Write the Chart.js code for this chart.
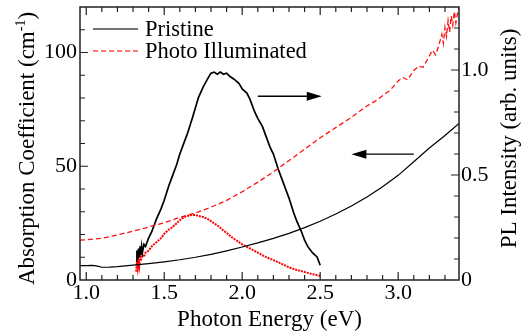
<!DOCTYPE html>
<html>
<head>
<meta charset="utf-8">
<script src="https://cdn.jsdelivr.net/npm/chart.js@4.4.1/dist/chart.umd.min.js"></script>
<style>
  html, body { margin: 0; padding: 0; background: #fff; }
</style>
</head>
<body>
<canvas id="myChart" width="523" height="331"></canvas>
<script>
// ---- data ----
// absorption (left axis, cm^-1)
const absPristineX = [0.96, 1.0, 1.04, 1.08, 1.1, 1.15, 1.2, 1.3, 1.4, 1.5, 1.6, 1.7, 1.8, 1.9, 2.0, 2.1, 2.2, 2.3, 2.4, 2.5, 2.6, 2.7, 2.8, 2.9, 3.0, 3.1, 3.2, 3.3, 3.39]
const absPristine  = [6.3, 6.3, 6.4, 6.0, 5.6, 5.7, 5.9, 6.5, 7.2, 8.0, 8.9, 10.0, 11.3, 12.8, 14.5, 16.3, 18.3, 20.5, 23.0, 25.8, 29.0, 32.5, 36.5, 41.0, 46.0, 52.0, 58.0, 63.5, 68.8]

const absPhotoX = [0.96, 1.0, 1.1, 1.2, 1.3, 1.4, 1.5, 1.6, 1.7, 1.8, 1.9, 2.0, 2.1, 2.2, 2.3, 2.4, 2.5, 2.6, 2.7, 2.8, 2.85, 2.9, 2.95, 3.0, 3.03, 3.06, 3.1, 3.13, 3.16, 3.2, 3.22, 3.24, 3.26, 3.28, 3.29, 3.3, 3.31, 3.32, 3.33, 3.34, 3.35, 3.36, 3.37, 3.38, 3.39]
const absPhoto  = [17.5, 17.7, 18.3, 19.8, 21.5, 23.3, 25.2, 27.5, 29.5, 32.0, 35.0, 38.8, 43.0, 47.5, 52.5, 57.5, 62.5, 67.0, 71.5, 76.5, 78.5, 81.0, 83.5, 87.5, 89.0, 88.0, 92.0, 94.0, 93.5, 98.5, 101, 99, 103, 108, 104, 111, 107, 114, 109, 116, 112, 118, 113, 117, 120]

// PL (right axis, arb. units)
const plPristineX = [1.32, 1.325, 1.33, 1.335, 1.34, 1.345, 1.35, 1.355, 1.36, 1.37, 1.38, 1.4, 1.42, 1.45, 1.48, 1.5, 1.53, 1.55, 1.58, 1.6, 1.63, 1.65, 1.68, 1.7, 1.72, 1.75, 1.78, 1.8, 1.82, 1.84, 1.86, 1.88, 1.9, 1.92, 1.95, 1.98, 2.0, 2.03, 2.05, 2.08, 2.1, 2.13, 2.15, 2.18, 2.2, 2.23, 2.25, 2.28, 2.3, 2.33, 2.35, 2.38, 2.4, 2.42, 2.45, 2.48, 2.5]
const plPristine  = [0.09, 0.14, 0.10, 0.15, 0.11, 0.16, 0.12, 0.16, 0.13, 0.17, 0.16, 0.20, 0.23, 0.29, 0.34, 0.38, 0.45, 0.49, 0.55, 0.60, 0.66, 0.70, 0.77, 0.82, 0.87, 0.92, 0.96, 0.985, 0.99, 0.98, 0.99, 0.98, 0.985, 0.97, 0.955, 0.935, 0.91, 0.89, 0.86, 0.80, 0.77, 0.73, 0.69, 0.63, 0.60, 0.53, 0.49, 0.43, 0.39, 0.32, 0.28, 0.23, 0.19, 0.16, 0.13, 0.11, 0.07]

const plPhotoX = [1.32, 1.325, 1.33, 1.335, 1.34, 1.345, 1.35, 1.36, 1.37, 1.38, 1.4, 1.42, 1.45, 1.48, 1.5, 1.53, 1.55, 1.58, 1.6, 1.63, 1.65, 1.68, 1.7, 1.72, 1.75, 1.78, 1.8, 1.83, 1.85, 1.88, 1.9, 1.93, 1.95, 1.98, 2.0, 2.05, 2.1, 2.15, 2.2, 2.25, 2.3, 2.35, 2.4, 2.45, 2.5]
const plPhoto  = [0.04, 0.09, 0.06, 0.10, 0.07, 0.11, 0.09, 0.12, 0.11, 0.13, 0.14, 0.16, 0.18, 0.20, 0.22, 0.24, 0.25, 0.27, 0.285, 0.30, 0.305, 0.31, 0.31, 0.305, 0.30, 0.29, 0.28, 0.265, 0.255, 0.235, 0.225, 0.205, 0.195, 0.18, 0.17, 0.15, 0.13, 0.11, 0.095, 0.078, 0.06, 0.048, 0.038, 0.028, 0.02]

const legendLabels = ["Pristine", "Photo Illuminated"]
const xTicks = [1.0, 1.5, 2.0, 2.5, 3.0]
const yLeftTicks = [0, 50, 100]
const yRightTicks = [0, 0.5, 1.0]
const xTitle = "Photon Energy (eV)"
const yLeftTitle = ["Absorption Coefficient (cm", "-1", ")"]
const yRightTitle = "PL Intensity (arb. units)"

// arrows: [xFrom, xTo, y, axis]
const arrows = [
    [2.10, 2.51, 0.875, 'y1'],
    [3.10, 2.70, 55.3, 'y'],
]

const FONT = "'Liberation Serif', 'Times New Roman', serif"

function pts(xs, ys) {
    return xs.map((x, i) => ({ x: x, y: ys[i] }))
}

const framePlugin = {
    id: 'frame',
    afterDatasetsDraw(chart) {
        const { ctx, chartArea: a, scales } = chart
        ctx.save()
        ctx.strokeStyle = '#222'
        ctx.lineWidth = 1.2
        ctx.beginPath()
        // top + bottom ticks every 0.1 eV
        for (let i = 10; i <= 33; i++) {
            const px = scales.x.getPixelForValue(i / 10)
            const len = i % 5 === 0 ? 8 : 5
            ctx.moveTo(px, a.bottom); ctx.lineTo(px, a.bottom - len)
            ctx.moveTo(px, a.top); ctx.lineTo(px, a.top + len)
        }
        // left ticks every 10
        for (let v = 10; v < 120; v += 10) {
            const py = scales.y.getPixelForValue(v)
            const len = v % 50 === 0 ? 8 : 5
            ctx.moveTo(a.left, py); ctx.lineTo(a.left + len, py)
        }
        // right ticks every 0.1
        for (let i = 1; i < 13; i++) {
            const py = scales.y1.getPixelForValue(i / 10)
            const len = i % 5 === 0 ? 8 : 5
            ctx.moveTo(a.right, py); ctx.lineTo(a.right - len, py)
        }
        ctx.stroke()
        ctx.lineWidth = 1.5
        ctx.strokeRect(a.left, a.top, a.right - a.left, a.bottom - a.top)

        // arrows
        ctx.strokeStyle = '#000'
        ctx.fillStyle = '#000'
        ctx.lineWidth = 1.3
        arrows.forEach(([x0, x1, yv, axis]) => {
            const p0 = scales.x.getPixelForValue(x0)
            const p1 = scales.x.getPixelForValue(x1)
            const py = scales[axis].getPixelForValue(yv)
            const dir = Math.sign(p1 - p0)
            ctx.beginPath()
            ctx.moveTo(p0, py); ctx.lineTo(p1 - dir * 12, py)
            ctx.stroke()
            ctx.beginPath()
            ctx.moveTo(p1, py)
            ctx.lineTo(p1 - dir * 15, py - 4.5)
            ctx.lineTo(p1 - dir * 15, py + 4.5)
            ctx.closePath()
            ctx.fill()
        })
        ctx.restore()
    },
    afterDraw(chart) {
        const { ctx, chartArea: a } = chart
        ctx.save()
        // legend
        const lx = a.left + 13
        const rows = [
            { y: a.top + 22, color: '#444', dash: [] },
            { y: a.top + 44, color: '#ff4a4a', dash: [5, 3] },
        ]
        ctx.font = '22.5px ' + FONT
        ctx.textBaseline = 'middle'
        ctx.fillStyle = '#000'
        rows.forEach((r, i) => {
            ctx.strokeStyle = r.color
            ctx.lineWidth = 1.5
            ctx.setLineDash(r.dash)
            ctx.beginPath()
            ctx.moveTo(lx, r.y); ctx.lineTo(lx + 45, r.y)
            ctx.stroke()
            ctx.setLineDash([])
            ctx.fillText(legendLabels[i], lx + 52, r.y + 1)
        })

        // left title with superscript
        ctx.save()
        ctx.translate(26, (a.top + a.bottom) / 2 + 5)
        ctx.rotate(-Math.PI / 2)
        ctx.font = '23px ' + FONT
        const w1 = ctx.measureText(yLeftTitle[0]).width
        const w3 = ctx.measureText(yLeftTitle[2]).width
        ctx.font = '14px ' + FONT
        const w2 = ctx.measureText(yLeftTitle[1]).width
        let x0 = -(w1 + w2 + w3) / 2
        ctx.textBaseline = 'alphabetic'
        ctx.font = '23px ' + FONT
        ctx.fillText(yLeftTitle[0], x0, 8)
        ctx.font = '14px ' + FONT
        ctx.fillText(yLeftTitle[1], x0 + w1, -1)
        ctx.font = '23px ' + FONT
        ctx.fillText(yLeftTitle[2], x0 + w1 + w2, 8)
        ctx.restore()

        // right title
        ctx.save()
        ctx.translate(508, (a.top + a.bottom) / 2 - 5)
        ctx.rotate(-Math.PI / 2)
        ctx.font = '23px ' + FONT
        ctx.textAlign = 'center'
        ctx.textBaseline = 'alphabetic'
        ctx.fillText(yRightTitle, 0, 8)
        ctx.restore()

        ctx.restore()
    }
}

const ctx = document.getElementById('myChart').getContext('2d')
const myChart = new Chart(ctx, {
    type: 'line',
    data: {
        datasets: [
            {
                label: 'Pristine abs',
                data: pts(absPristineX, absPristine),
                borderColor: '#000',
                borderWidth: 1.2,
                yAxisID: 'y',
            },
            {
                label: 'Photo abs',
                data: pts(absPhotoX, absPhoto),
                borderColor: '#ff1010',
                borderWidth: 1.3,
                borderDash: [5, 3],
                yAxisID: 'y',
            },
            {
                label: 'Pristine PL',
                data: pts(plPristineX, plPristine),
                borderColor: '#000',
                borderWidth: 1.7,
                yAxisID: 'y1',
            },
            {
                label: 'Photo PL',
                data: pts(plPhotoX, plPhoto),
                borderColor: '#ff0000',
                borderWidth: 2,
                borderDash: [2, 1],
                yAxisID: 'y1',
            },
        ],
    },
    options: {
        responsive: false,
        animation: false,
        events: [],
        layout: { padding: { top: 7, left: 0, right: 0, bottom: 0 } },
        elements: { point: { radius: 0 }, line: { tension: 0 } },
        plugins: { legend: { display: false }, tooltip: { enabled: false } },
        scales: {
            x: {
                type: 'linear',
                min: 0.96,
                max: 3.39,
                grid: { display: false, drawTicks: false },
                border: { display: false },
                afterBuildTicks: (s) => { s.ticks = xTicks.map(v => ({ value: v })) },
                afterFit: (s) => { s.height = 51; s.paddingLeft = 0; s.paddingRight = 0 },
                ticks: {
                    color: '#000',
                    padding: 0,
                    maxRotation: 0,
                    font: { family: FONT, size: 22 },
                    callback: (v) => Number(v).toFixed(1),
                },
                title: {
                    display: true,
                    text: xTitle,
                    color: '#000',
                    font: { family: FONT, size: 23, lineHeight: 1.0 },
                    padding: { top: 0, bottom: 0 },
                },
            },
            y: {
                position: 'left',
                min: 0,
                max: 120,
                grid: { display: false, drawTicks: false },
                border: { display: false },
                afterBuildTicks: (s) => { s.ticks = yLeftTicks.map(v => ({ value: v })) },
                afterFit: (s) => { s.width = 80; s.paddingTop = 0; s.paddingBottom = 0 },
                ticks: {
                    color: '#000',
                    padding: 3,
                    font: { family: FONT, size: 22 },
                },
            },
            y1: {
                position: 'right',
                min: 0,
                max: 1.3,
                grid: { display: false, drawTicks: false },
                border: { display: false },
                afterBuildTicks: (s) => { s.ticks = yRightTicks.map(v => ({ value: v })) },
                afterFit: (s) => { s.width = 64; s.paddingTop = 0; s.paddingBottom = 0 },
                ticks: {
                    color: '#000',
                    padding: 2,
                    font: { family: FONT, size: 22 },
                    callback: (v) => v === 0 ? '0' : Number(v).toFixed(1),
                },
            },
        },
    },
    plugins: [framePlugin],
})
</script>
</body>
</html>
